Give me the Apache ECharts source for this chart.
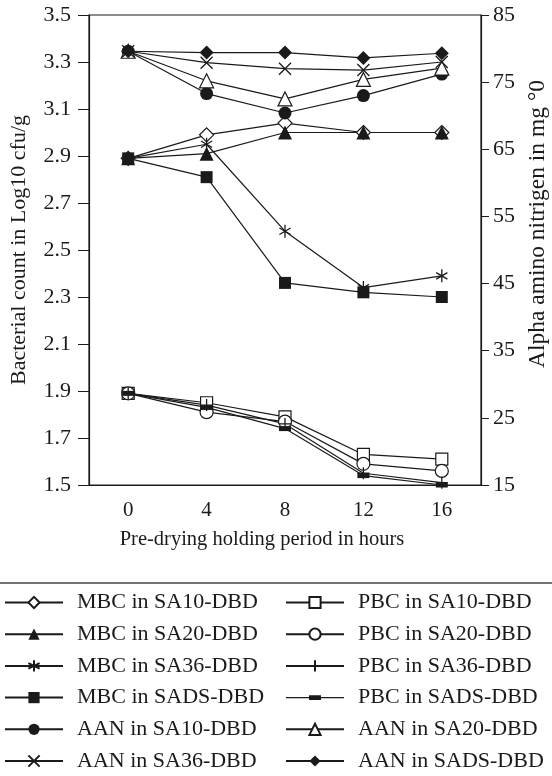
<!DOCTYPE html>
<html>
<head>
<meta charset="utf-8">
<title>Holding period chart</title>
<script src="https://cdn.jsdelivr.net/npm/echarts@6/dist/echarts.min.js"></script>
<style>
    html, body { margin: 0; padding: 0; background: #fff; }
    #chart { width: 552px; height: 776px; }
</style>
</head>
<body>
<div id="chart"></div>
<script>
    // x categories (hours)
    var hours = ['0', '4', '8', '12', '16'];

    // left axis ticks
    var leftMin = 1.5, leftMax = 3.5, leftStep = 0.2;
    // right axis ticks
    var rightMin = 15, rightMax = 85, rightStep = 10;

    // bacterial counts, Log10 cfu/g
    var mbcSA10 = [2.89, 2.99, 3.04, 3.00, 3.00];
    var mbcSA20 = [2.89, 2.91, 3.00, 3.00, 3.00];
    var mbcSA36 = [2.89, 2.95, 2.58, 2.34, 2.39];
    var mbcSADS = [2.89, 2.81, 2.36, 2.32, 2.30];
    var pbcSA10 = [1.89, 1.85, 1.79, 1.63, 1.61];
    var pbcSA20 = [1.89, 1.81, 1.77, 1.59, 1.56];
    var pbcSA36 = [1.89, 1.84, 1.76, 1.55, 1.51];
    var pbcSADS = [1.89, 1.83, 1.74, 1.54, 1.50];
    // alpha amino nitrogen
    var aanSA10 = [79.6, 73.3, 70.4, 73.0, 76.2];
    var aanSA20 = [79.6, 75.2, 72.5, 75.4, 77.1];
    var aanSA36 = [79.6, 77.9, 77.0, 76.8, 78.0];
    var aanSADS = [79.6, 79.4, 79.4, 78.6, 79.3];

    var legendLeft = ['MBC in SA10-DBD', 'MBC in SA20-DBD', 'MBC in SA36-DBD', 'MBC in SADS-DBD', 'AAN in SA10-DBD', 'AAN in SA36-DBD'];
    var legendRight = ['PBC in SA10-DBD', 'PBC in SA20-DBD', 'PBC in SA36-DBD', 'PBC in SADS-DBD', 'AAN in SA20-DBD', 'AAN in SADS-DBD'];

    var font = 'Liberation Serif';
    var ink = '#1a1a1a';

    var ASTERISK = 'path://M5,0L5,10M0.7,2.5L9.3,7.5M0.7,7.5L9.3,2.5';
    var CROSS = 'path://M0,0L10,10M10,0L0,10';
    var PLUS = 'path://M5,0L5,10M0,5L10,5';
    var BAR = 'path://M0,0L12,0L12,5L0,5Z';
    // legend icon for the flat bar marker: line + bar, padded to 58x14
    var BAR_ICON = 'path://M29,0L29,0ZM29,14L29,14ZM0,6.4L58,6.4L58,7.6L0,7.6ZM23,4.6L35,4.6L35,9.4L23,9.4Z';

    // fill: 'open' | 'solid' | 'stroke'
    function line(name, data, yIndex, symbol, size, fill) {
        var itemStyle;
        if (fill === 'open') {
            itemStyle = {color: '#fff', borderColor: ink, borderWidth: 1.2};
        } else if (fill === 'stroke') {
            itemStyle = {color: ink, borderColor: ink, borderWidth: 1.3};
        } else {
            itemStyle = {color: ink, borderColor: ink, borderWidth: 0};
        }
        return {
            name: name,
            type: 'line',
            yAxisIndex: yIndex,
            data: data,
            symbol: symbol,
            symbolSize: size,
            symbolKeepAspect: true,
            showAllSymbol: true,
            lineStyle: {color: ink, width: 1.2},
            itemStyle: itemStyle,
            emphasis: {disabled: true}
        };
    }

    function legend(left, names) {
        return {
            orient: 'vertical',
            left: left,
            top: 591.5,
            padding: 0,
            itemWidth: 58,
            itemHeight: 14,
            itemGap: 9.7,
            data: names.map(function (n) {
                return n === 'PBC in SADS-DBD' ? {name: n, icon: BAR_ICON} : n;
            }),
            selectedMode: false,
            textStyle: {
                fontFamily: font,
                fontSize: 22,
                lineHeight: 22,
                color: ink,
                padding: [0, 0, 0, 9]
            }
        };
    }

    var chart = echarts.init(document.getElementById('chart'));
    chart.setOption({
        animation: false,
        backgroundColor: '#fff',
        textStyle: {fontFamily: font},
        grid: {
            left: 89,
            right: 71,
            top: 15,
            bottom: 291,
            outerBoundsMode: 'none',
            show: true,
            borderColor: ink,
            borderWidth: 1.2
        },
        legend: [legend(4, legendLeft), legend(285, legendRight)],
        graphic: [{
            type: 'line',
            shape: {x1: 0, y1: 583, x2: 552, y2: 583},
            style: {stroke: '#444', lineWidth: 1.5}
        }],
        xAxis: {
            type: 'category',
            data: hours,
            boundaryGap: true,
            name: 'Pre-drying holding period in hours',
            nameLocation: 'middle',
            nameGap: 44,
            nameTextStyle: {fontFamily: font, fontSize: 20.5, color: ink, padding: [0, 46, 0, 0]},
            axisLine: {lineStyle: {color: ink, width: 1.2}},
            axisTick: {alignWithLabel: true, length: 8, lineStyle: {color: ink}},
            axisLabel: {fontFamily: font, fontSize: 21, color: ink, margin: 15},
            splitLine: {show: false}
        },
        yAxis: [{
            type: 'value',
            position: 'left',
            min: leftMin,
            max: leftMax,
            interval: leftStep,
            name: 'Bacterial count in Log10 cfu/g',
            nameLocation: 'middle',
            nameRotate: 90,
            nameGap: 59,
            nameTextStyle: {fontFamily: font, fontSize: 22, color: ink},
            axisLine: {show: true, lineStyle: {color: ink, width: 1.2}},
            axisTick: {show: true, length: 11, lineStyle: {color: ink}},
            axisLabel: {
                fontFamily: font, fontSize: 22, color: ink, margin: 18,
                formatter: function (v) { return v.toFixed(1); }
            },
            splitLine: {show: false}
        }, {
            type: 'value',
            position: 'right',
            min: rightMin,
            max: rightMax,
            interval: rightStep,
            name: 'Alpha amino nitrigen in mg °0',
            nameLocation: 'middle',
            nameRotate: 90,
            nameGap: 44,
            nameTextStyle: {fontFamily: font, fontSize: 23.5, color: ink, padding: [0, 0, 0, 52]},
            axisLine: {show: true, lineStyle: {color: ink, width: 1.2}},
            axisTick: {show: true, length: 8, lineStyle: {color: ink}},
            axisLabel: {fontFamily: font, fontSize: 22, color: ink, margin: 12},
            splitLine: {show: false}
        }],
        series: [
            line('MBC in SA10-DBD', mbcSA10, 0, 'diamond', 14, 'open'),
            line('MBC in SA20-DBD', mbcSA20, 0, 'triangle', 14, 'solid'),
            line('MBC in SA36-DBD', mbcSA36, 0, ASTERISK, 13, 'stroke'),
            line('MBC in SADS-DBD', mbcSADS, 0, 'rect', 12, 'solid'),
            line('PBC in SA10-DBD', pbcSA10, 0, 'rect', 12, 'open'),
            line('PBC in SA20-DBD', pbcSA20, 0, 'circle', 13, 'open'),
            line('PBC in SA36-DBD', pbcSA36, 0, PLUS, 12, 'stroke'),
            line('PBC in SADS-DBD', pbcSADS, 0, BAR, 12, 'solid'),
            line('AAN in SA10-DBD', aanSA10, 1, 'circle', 13, 'solid'),
            line('AAN in SA20-DBD', aanSA20, 1, 'triangle', 14, 'open'),
            line('AAN in SA36-DBD', aanSA36, 1, CROSS, 12, 'stroke'),
            line('AAN in SADS-DBD', aanSADS, 1, 'diamond', 14, 'solid')
        ]
    });
</script>
</body>
</html>
